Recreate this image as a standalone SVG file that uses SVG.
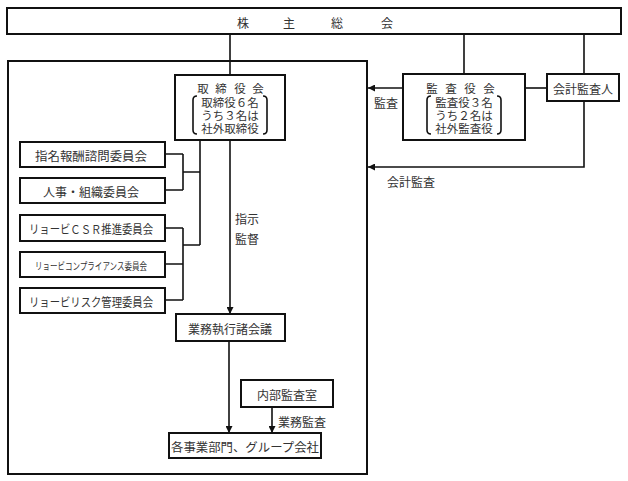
<svg xmlns="http://www.w3.org/2000/svg" width="628" height="481" viewBox="0 0 628 481">
<style>
.box{fill:#fff;stroke:#111;stroke-width:2}
.ln{fill:none;stroke:#111;stroke-width:1.6}
text{font-family:"Noto Sans CJK JP","Noto Sans",sans-serif;font-size:12px;fill:#333;text-anchor:middle;dominant-baseline:central}
.ml{font-size:11.5px}
</style>
<defs>
<marker id="ah" viewBox="0 0 10 10" refX="10" refY="5" markerWidth="7" markerHeight="7" markerUnits="userSpaceOnUse" orient="auto">
<path d="M0,0 L10,5 L0,10 Z" fill="#111"/>
</marker>
</defs>
<rect width="628" height="481" fill="#fff"/>
<g id="connectors">
<path class="ln" d="M230,34 V75 M464,34 V74 M584,34 V74"/>
<path class="ln" d="M525,88 H547"/>
<path class="ln" d="M403,88 H368" marker-end="url(#ah)"/>
<path class="ln" d="M584,101 V167 H368" marker-end="url(#ah)"/>
<path class="ln" d="M165,154 H183 M165,190 H183 M183,154 V190 M183,172 H200"/>
<path class="ln" d="M165,228 H183 M165,264 H183 M165,300 H183 M183,228 V300 M183,245 H200"/>
<path class="ln" d="M200,140 V245"/>
<path class="ln" d="M230,140 V314" marker-end="url(#ah)"/>
<path class="ln" d="M229,341 V433" marker-end="url(#ah)"/>
<path class="ln" d="M272,407 V433" marker-end="url(#ah)"/>
<text x="386" y="102">監査</text>
<text x="411" y="181">会計監査</text>
<text x="247" y="218">指示</text>
<text x="247" y="238">監督</text>
<text x="302" y="421">業務監査</text>
</g>
<g id="shareholders">
<rect class="box" x="7" y="8" width="614" height="26"/>
<text x="243 289 337 387" y="22">株主総会</text>
</g>
<g id="outer">
<rect x="8" y="61" width="359" height="413" fill="none" stroke="#111" stroke-width="2"/>
</g>
<g id="board">
<rect class="box" x="175" y="75" width="110" height="65"/>
<text class="ml" y="88"><tspan x="203 221 240 258" y="88">取締役会</tspan><tspan x="230" y="102">取締役６名</tspan><tspan x="230" y="115">うち３名は</tspan><tspan x="230" y="128">社外取締役</tspan></text>
<path class="ln" d="M197,96 Q193,96 193,100 V130 Q193,134 197,134 M263,96 Q267,96 267,100 V130 Q267,134 263,134" stroke-width="1.4"/>
</g>
<g id="auditors">
<rect class="box" x="403" y="74" width="122" height="66"/>
<text class="ml" y="88"><tspan x="432 451 470 489" y="88">監査役会</tspan><tspan x="464" y="102">監査役３名</tspan><tspan x="464" y="115">うち２名は</tspan><tspan x="464" y="128">社外監査役</tspan></text>
<path class="ln" d="M431,96 Q427,96 427,100 V130 Q427,134 431,134 M497,96 Q501,96 501,100 V130 Q501,134 497,134" stroke-width="1.4"/>
</g>
<g id="accounting-auditor">
<rect class="box" x="547" y="74" width="72" height="27"/>
<text x="583" y="88">会計監査人</text>
</g>
<g id="nomination">
<rect class="box" x="20" y="142" width="145" height="25"/>
<text x="91" y="155" textLength="112" lengthAdjust="spacingAndGlyphs">指名報酬諮問委員会</text>
</g>
<g id="personnel">
<rect class="box" x="20" y="178" width="145" height="25"/>
<text x="91" y="191" textLength="96" lengthAdjust="spacingAndGlyphs">人事・組織委員会</text>
</g>
<g id="csr">
<rect class="box" x="20" y="215" width="145" height="26"/>
<text x="91" y="228" textLength="124" lengthAdjust="spacingAndGlyphs">リョービＣＳＲ推進委員会</text>
</g>
<g id="compliance">
<rect class="box" x="20" y="252" width="145" height="25"/>
<text x="91" y="265" textLength="112" lengthAdjust="spacingAndGlyphs" style="font-size:10px">リョービコンプライアンス委員会</text>
</g>
<g id="risk">
<rect class="box" x="20" y="288" width="145" height="25"/>
<text x="91" y="301" textLength="124" lengthAdjust="spacingAndGlyphs">リョービリスク管理委員会</text>
</g>
<g id="exec-meeting">
<rect class="box" x="176" y="314" width="109" height="27"/>
<text x="230" y="328" textLength="84" lengthAdjust="spacingAndGlyphs">業務執行諸会議</text>
</g>
<g id="internal-audit">
<rect class="box" x="241" y="380" width="92" height="27"/>
<text x="287" y="394" textLength="60" lengthAdjust="spacingAndGlyphs">内部監査室</text>
</g>
<g id="divisions">
<rect class="box" x="169" y="433" width="152" height="25"/>
<text x="245" y="446" textLength="148" lengthAdjust="spacingAndGlyphs">各事業部門、グループ会社</text>
</g>
</svg>
